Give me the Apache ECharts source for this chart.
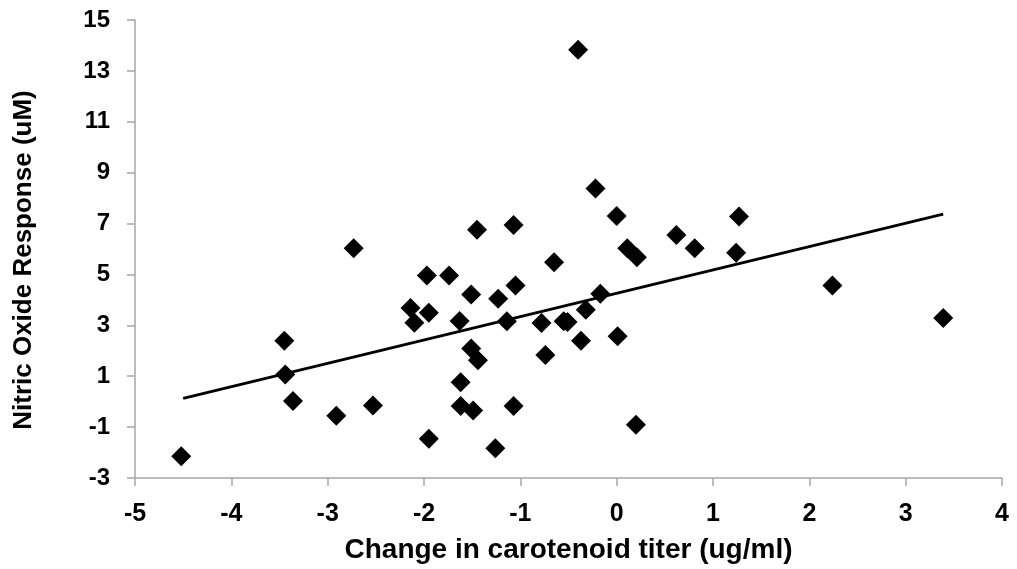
<!DOCTYPE html>
<html>
<head>
<meta charset="utf-8">
<script src="https://cdn.jsdelivr.net/npm/echarts@6/dist/echarts.min.js"></script>
<style>html,body{margin:0;padding:0;background:#fff;}#c{width:1017px;height:569px;}</style>
</head>
<body>
<div id="c"></div>
<script>
var xValues = [-4.52,-3.45,-3.44,-3.36,-2.91,-2.73,-2.53,-1.95,-2.14,-2.10,-1.95,-1.97,-1.74,-1.45,-1.07,-1.51,-1.23,-1.05,-1.63,-1.14,-0.65,-0.78,-0.55,-0.51,-0.32,-0.17,-0.37,-0.74,0.01,-0.22,0.00,0.11,0.21,0.62,0.81,-1.51,-1.44,-1.62,-1.62,-1.49,-1.07,-1.26,0.20,1.27,1.24,2.24,3.39,-0.40];
var yValues = [-2.15,2.39,1.07,0.03,-0.55,6.03,-0.15,-1.46,3.68,3.10,3.49,4.96,4.96,6.76,6.94,4.21,4.04,4.57,3.17,3.16,5.48,3.09,3.16,3.13,3.61,4.24,2.39,1.83,2.57,8.38,7.30,6.03,5.68,6.55,6.03,2.09,1.63,0.76,-0.17,-0.35,-0.17,-1.83,-0.91,7.28,5.85,4.57,3.29,13.83];
var trendX = [-4.50, 3.39];
var trendY = [0.13, 7.37];
var xTicks = [-5,-4,-3,-2,-1,0,1,2,3,4];
var yTicks = [-3,-1,1,3,5,7,9,11,13,15];

var points = xValues.map(function(x,i){return [x,yValues[i]];});
var trend = trendX.map(function(x,i){return [x,trendY[i]];});
var font = '"Liberation Sans", Arial, sans-serif';
var axisColor = '#a6a6a6';

var chart = echarts.init(document.getElementById('c'), null, {renderer:'canvas'});
chart.setOption({
  animation:false,
  backgroundColor:'#fff',
  grid:{left:135, right:15, top:20, bottom:89, containLabel:false},
  xAxis:{
    type:'value', min:-5, max:4, interval:1,
    splitLine:{show:false},
    axisLine:{show:true, onZero:false, lineStyle:{color:axisColor, width:1.5}},
    axisTick:{show:true, length:8, lineStyle:{color:axisColor, width:1.5}, customValues:xTicks},
    axisLabel:{customValues:xTicks, margin:24, color:'#000', fontFamily:font, fontWeight:'bold', fontSize:25},
    name:'Change in carotenoid titer (ug/ml)', nameLocation:'middle', nameGap:58,
    nameTextStyle:{color:'#000', fontFamily:font, fontWeight:'bold', fontSize:28}
  },
  yAxis:{
    type:'value', min:-3, max:15,
    splitLine:{show:false},
    axisLine:{show:true, onZero:false, lineStyle:{color:axisColor, width:1.5}},
    axisTick:{show:true, length:8, lineStyle:{color:axisColor, width:1.5}, customValues:yTicks},
    axisLabel:{customValues:yTicks, margin:25, color:'#000', fontFamily:font, fontWeight:'bold', fontSize:24},
    name:'Nitric Oxide Response (uM)', nameLocation:'middle', nameGap:98,
    nameTextStyle:{color:'#000', fontFamily:font, fontWeight:'bold', fontSize:26, padding:[0,22,0,0]}
  },
  series:[
    {type:'scatter', data:points, symbol:'diamond', symbolSize:20, itemStyle:{color:'#000', opacity:1}, z:3},
    {type:'line', data:trend, symbol:'none', lineStyle:{color:'#000', width:3}, z:2}
  ]
});
</script>
</body>
</html>
